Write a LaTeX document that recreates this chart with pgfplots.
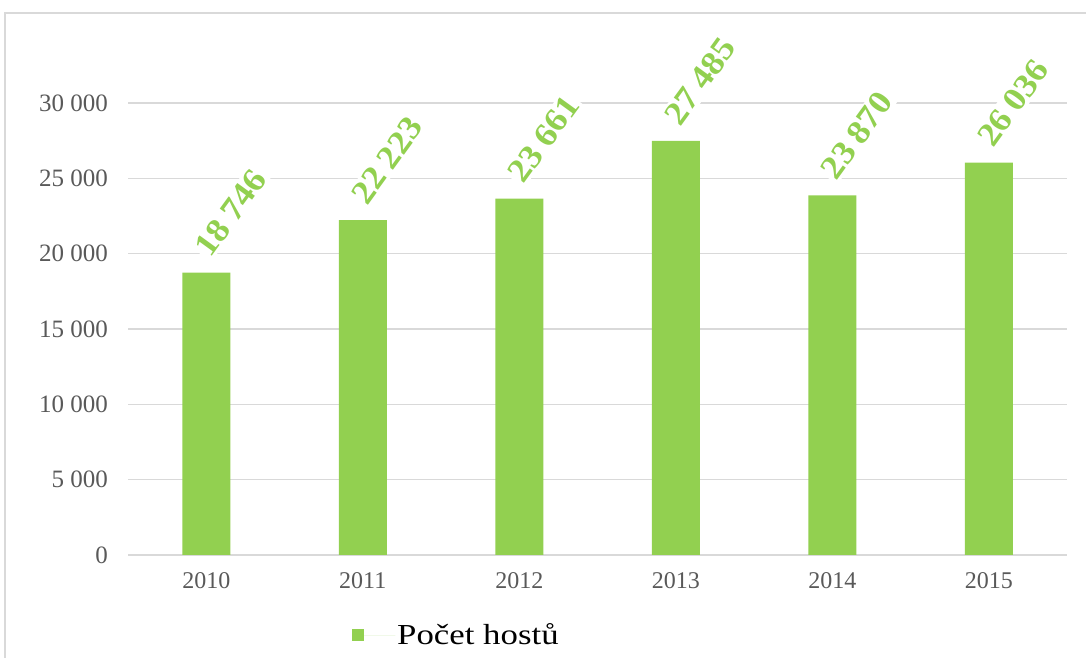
\documentclass[border=0pt]{standalone}
\usepackage{fontspec}
\setmainfont{Liberation Serif}
\usepackage{graphicx}
\usepackage{pgfplots}
\pgfplotsset{compat=1.18}
\definecolor{barg}{HTML}{92D050}
\definecolor{tickc}{HTML}{595959}
\definecolor{gridc}{HTML}{D9D9D9}
\begin{document}
\begin{tikzpicture}[x=1pt,y=1pt]
\useasboundingbox (0,0) rectangle (1086,658);
\draw[gridc, line width=1.5pt] (5,-20) -- (5,645) -- (1120,645);
\begin{axis}[
  at={(128pt,103pt)}, anchor=south west,
  scale only axis, width=939pt, height=452pt,
  xmin=-0.5, xmax=5.5, ymin=0, ymax=30000,
  clip=false,
  scaled y ticks=false,
  axis line style={draw=none},
  major tick length=0pt,
  ymajorgrids, grid style={gridc, line width=1.3pt},
  ytick={0,5000,10000,15000,20000,25000,30000},
  yticklabels={0,5 000,10 000,15 000,20 000,25 000,30 000},
  yticklabel style={anchor=east, inner sep=0pt, xshift=-20pt, text=tickc, font=\fontsize{25}{25}\selectfont},
  xtick={0,1,2,3,4,5},
  xticklabels={2010,2011,2012,2013,2014,2015},
  xticklabel style={anchor=north, inner sep=0pt, yshift=-17pt, text=tickc, font=\fontsize{24}{24}\selectfont},
  /pgf/number format/assume math mode=true,
  /pgf/number format/1000 sep={\hspace{0.2em}},
  ybar, bar width=48pt,
  nodes near coords={\scalebox{1.1}[1]{\pgfmathprintnumber{\pgfplotspointmeta}}},
  every node near coord/.style={xshift=3pt, yshift=12pt, rotate=54, anchor=base west, inner sep=2pt, fill=white, text=barg, font=\bfseries\fontsize{33}{33}\selectfont},
  legend style={at={(axis description cs:0.2386,-0.177)}, anchor=west, draw=none, fill=none, inner sep=0pt, font=\fontsize{29}{29}\selectfont, text=black},
  legend image code/.code={\fill[barg] (0pt,-6pt) rectangle (12pt,6pt); \path (0pt,0pt) -- (43pt,0pt);},
]
\addplot[fill=barg, draw=none] coordinates {(0,18746) (1,22223) (2,23661) (3,27485) (4,23870) (5,26036)};
\addlegendentry{\scalebox{1.2}[1]{Počet hostů}}
\end{axis}
\end{tikzpicture}
\end{document}
